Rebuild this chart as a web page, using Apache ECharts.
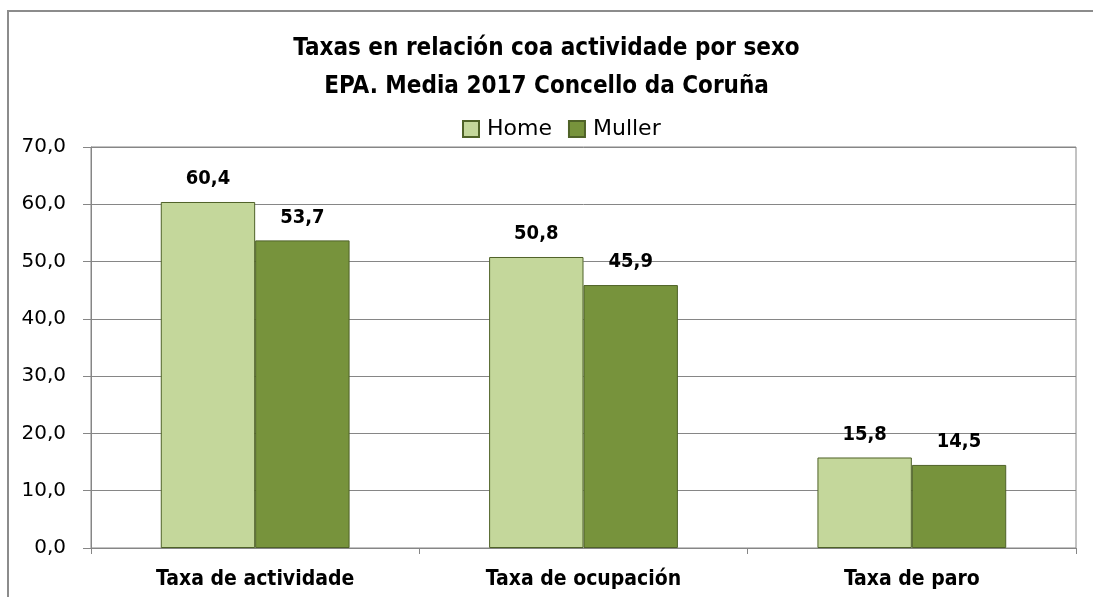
<!DOCTYPE html>
<html>
<head>
<meta charset="utf-8">
<script src="https://cdn.jsdelivr.net/npm/echarts@6/dist/echarts.min.js"></script>
<style>html,body{margin:0;padding:0;background:#fff;}#c{width:1093px;height:597px;}</style>
</head>
<body>
<div id="c"></div>
<script>
const titleLines = ['Taxas en relación coa actividade por sexo', 'EPA. Media 2017 Concello da Coruña'];
const categories = ['Taxa de actividade', 'Taxa de ocupación', 'Taxa de paro'];
const seriesNames = ['Home', 'Muller'];
const homeValues = [60.4, 50.8, 15.8];
const mullerValues = [53.7, 45.9, 14.5];
const yTicks = [0, 10, 20, 30, 40, 50, 60, 70];

const fmt = v => Number(v).toFixed(1).replace('.', ',');
const condFont = '"DejaVu Sans Condensed", "DejaVu Sans", sans-serif';
const bodyFont = '"DejaVu Sans", Verdana, sans-serif';

const chart = echarts.init(document.getElementById('c'), null, {renderer: 'canvas'});
chart.setOption({
  animation: false,
  backgroundColor: '#fff',
  title: {
    text: titleLines.join('\n'),
    left: 'center',
    top: 25,
    textStyle: {fontFamily: condFont, fontWeight: 'bold', fontSize: 24, lineHeight: 38, color: '#000'}
  },
  legend: {
    data: seriesNames,
    top: 113,
    left: 457,
    itemWidth: 16,
    itemHeight: 16,
    itemGap: 16,
    icon: 'rect',
    textStyle: {fontFamily: bodyFont, fontSize: 22, color: '#000', padding: [0, 0, 0, 3]}
  },
  graphic: [{
    type: 'polyline',
    shape: {points: [[8, 600], [8, 11], [1100, 11]]},
    style: {stroke: '#8c8c8c', lineWidth: 2, fill: null},
    silent: true
  }],
  grid: {
    left: 91, right: 17, top: 147, bottom: 49,
    show: true, borderColor: '#868686', borderWidth: 1, backgroundColor: 'transparent'
  },
  xAxis: {
    type: 'category',
    data: categories,
    axisLine: {lineStyle: {color: '#868686', width: 1}},
    axisTick: {show: true, length: 6, lineStyle: {color: '#868686'}},
    axisLabel: {fontFamily: condFont, fontWeight: 'bold', fontSize: 21, color: '#000', margin: 21}
  },
  yAxis: {
    type: 'value',
    min: 0, max: 70, interval: 10,
    axisLine: {show: true, lineStyle: {color: '#868686'}},
    axisTick: {show: true, length: 8, lineStyle: {color: '#868686'}},
    splitLine: {show: true, lineStyle: {color: '#868686', width: 1}},
    axisLabel: {fontFamily: bodyFont, fontSize: 20, color: '#000', margin: 25,
      formatter: v => yTicks.includes(v) ? fmt(v) : ''}
  },
  series: [
    {
      name: seriesNames[0], type: 'bar', data: homeValues,
      barGap: '0%', barCategoryGap: '42.5%',
      itemStyle: {color: '#c4d79b', borderColor: '#4f6228', borderWidth: 1},
      label: {show: true, position: 'top', distance: 13, formatter: p => fmt(p.value),
        fontFamily: condFont, fontWeight: 'bold', fontSize: 20, color: '#000'}
    },
    {
      name: seriesNames[1], type: 'bar', data: mullerValues,
      barGap: '0%', barCategoryGap: '42.5%',
      itemStyle: {color: '#77933c', borderColor: '#4f6228', borderWidth: 1},
      label: {show: true, position: 'top', distance: 13, formatter: p => fmt(p.value),
        fontFamily: condFont, fontWeight: 'bold', fontSize: 20, color: '#000'}
    }
  ]
});
</script>
</body>
</html>
